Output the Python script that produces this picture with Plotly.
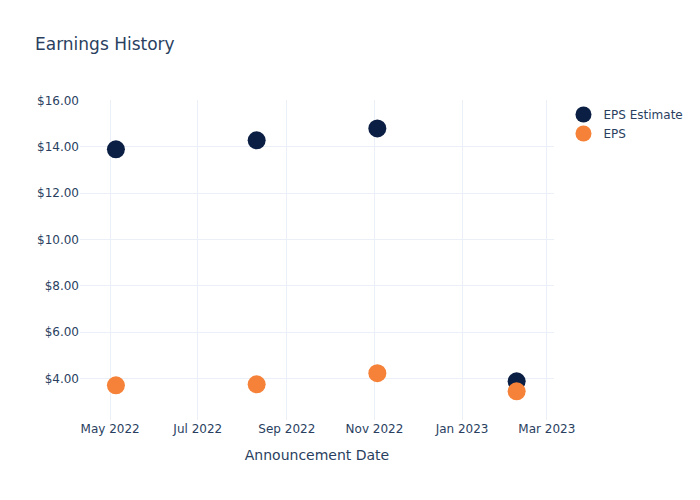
import plotly.graph_objects as go

dates = ["2022-05-05", "2022-08-11", "2022-11-03", "2023-02-08"]
eps_estimate = [13.89, 14.28, 14.79, 3.87]
eps_actual = [3.70, 3.74, 4.22, 3.44]

fig = go.Figure()
fig.add_trace(go.Scatter(x=dates, y=eps_estimate, mode="markers", name="EPS Estimate",
                         marker=dict(color="#0b1f44", size=18)))
fig.add_trace(go.Scatter(x=dates, y=eps_actual, mode="markers", name="EPS",
                         marker=dict(color="#f58238", size=18)))
fig.update_layout(
    template="plotly_white",
    width=700, height=500,
    font=dict(family="DejaVu Sans"),
    title=dict(text="Earnings History"),
    xaxis=dict(title="Announcement Date", range=["2022-04-10", "2023-03-06"]),
    yaxis=dict(tickformat="$.2f", range=[2.2, 16.02]),
)
fig.write_html("out.html")
